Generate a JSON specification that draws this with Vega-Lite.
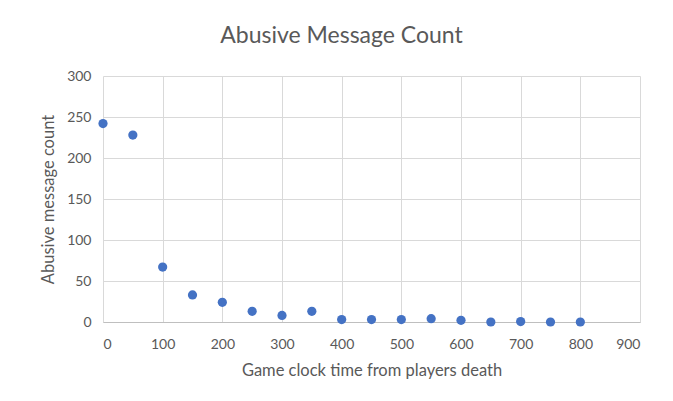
{
  "$schema": "https://vega.github.io/schema/vega-lite/v6.json",
  "width": 537,
  "height": 246,
  "autosize": "none",
  "padding": {"left": 103, "top": 76, "right": 33, "bottom": 79},
  "background": "white",
  "title": {
    "text": "Abusive Message Count",
    "font": "Lato",
    "fontSize": 23,
    "fontWeight": "normal",
    "color": "#595959",
    "anchor": "middle",
    "dx": -30,
    "offset": 21
  },
  "data": {
    "values": [
      {"time": 0, "count": 242},
      {"time": 50, "count": 228},
      {"time": 100, "count": 67},
      {"time": 150, "count": 33},
      {"time": 200, "count": 24},
      {"time": 250, "count": 13},
      {"time": 300, "count": 8},
      {"time": 350, "count": 13},
      {"time": 400, "count": 3},
      {"time": 450, "count": 3},
      {"time": 500, "count": 3},
      {"time": 550, "count": 4},
      {"time": 600, "count": 2},
      {"time": 650, "count": 0},
      {"time": 700, "count": 0.5},
      {"time": 750, "count": 0},
      {"time": 800, "count": 0}
    ]
  },
  "mark": {"type": "point", "filled": true, "size": 85, "color": "#4472C4", "opacity": 1},
  "encoding": {
    "x": {
      "field": "time",
      "type": "quantitative",
      "scale": {"domain": [0, 900], "nice": false},
      "axis": {"values": [0, 100, 200, 300, 400, 500, 600, 700, 800, 900], "title": "Game clock time from players death"}
    },
    "y": {
      "field": "count",
      "type": "quantitative",
      "scale": {"domain": [0, 300], "nice": false},
      "axis": {"values": [0, 50, 100, 150, 200, 250, 300], "title": "Abusive message count", "domain": false}
    }
  },
  "config": {
    "view": {"stroke": null},
    "font": "Lato",
    "axis": {
      "gridColor": "#d9d9d9",
      "gridWidth": 1,
      "ticks": false,
      "domainColor": "#bfbfbf",
      "labelColor": "#595959",
      "labelFontSize": 14,
      "labelFont": "Lato",
      "titleColor": "#595959",
      "titleFontSize": 16.5,
      "titleFont": "Lato",
      "titleFontWeight": "normal"
    },
    "axisX": {"labelPadding": 15, "titlePadding": 11},
    "axisY": {"labelPadding": 12, "titlePadding": 10}
  }
}
